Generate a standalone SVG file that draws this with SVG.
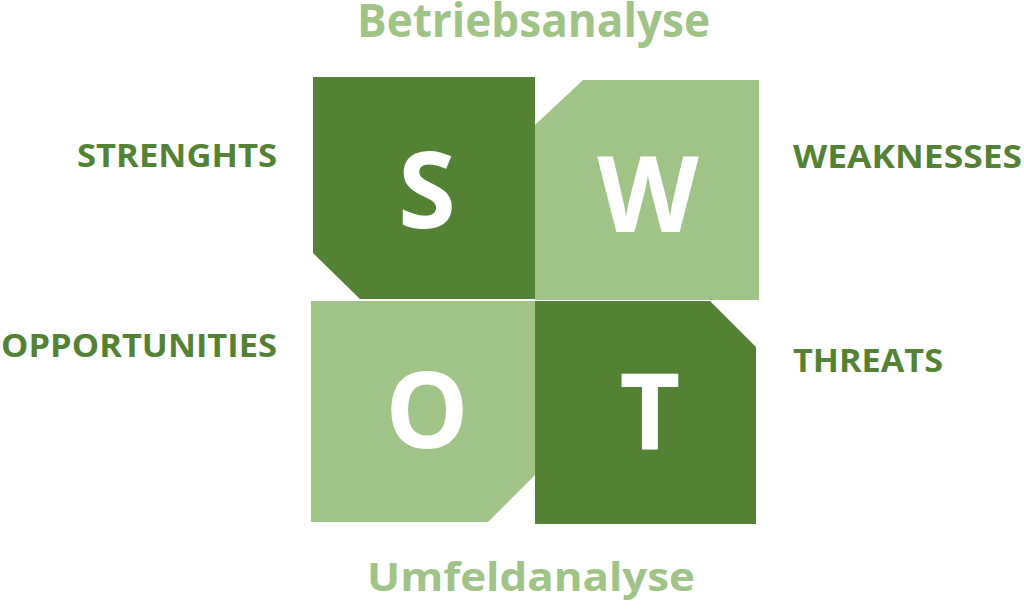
<svg xmlns="http://www.w3.org/2000/svg" width="1024" height="609" viewBox="0 0 1024 609">
<style>
.dark{fill:#548235}
.light{fill:#A0C387}
.lbl{font-family:"Open Sans","Liberation Sans",sans-serif;font-weight:bold}
.big{font-family:"Open Sans","Liberation Sans",sans-serif;font-weight:bold;font-size:105px;fill:#ffffff;text-anchor:middle}
</style>
<rect width="1024" height="609" fill="#ffffff"/>
<g id="S">
<polygon class="dark" points="313,77 535,77 535,299 360,299 313,253"/>
<text class="big" x="427" y="228">S</text>
</g>
<g id="W">
<polygon class="light" points="583,80 759,80 759,300 535,300 535,125"/>
<text class="big" x="648" y="232">W</text>
</g>
<g id="O">
<polygon class="light" points="311,301 535,301 535,475 488,522 311,522"/>
<text class="big" x="427" y="448">O</text>
</g>
<g id="T">
<polygon class="dark" points="535,301 710,301 756,347 756,524 535,524"/>
<text class="big" x="650" y="449">T</text>
</g>
<g id="labels">
<text class="lbl light" x="357" y="37" font-size="46" textLength="353" lengthAdjust="spacingAndGlyphs">Betriebsanalyse</text>
<text class="lbl light" x="367" y="591" font-size="39" textLength="328" lengthAdjust="spacingAndGlyphs">Umfeldanalyse</text>
<text class="lbl dark" x="77" y="167" font-size="33" textLength="200" lengthAdjust="spacingAndGlyphs">STRENGHTS</text>
<text class="lbl dark" x="1" y="357" font-size="33" textLength="276" lengthAdjust="spacingAndGlyphs">OPPORTUNITIES</text>
<text class="lbl dark" x="793" y="168" font-size="33" textLength="229" lengthAdjust="spacingAndGlyphs">WEAKNESSES</text>
<text class="lbl dark" x="793" y="372" font-size="33" textLength="150" lengthAdjust="spacingAndGlyphs">THREATS</text>
</g>
<g id="connectors"/>
</svg>
